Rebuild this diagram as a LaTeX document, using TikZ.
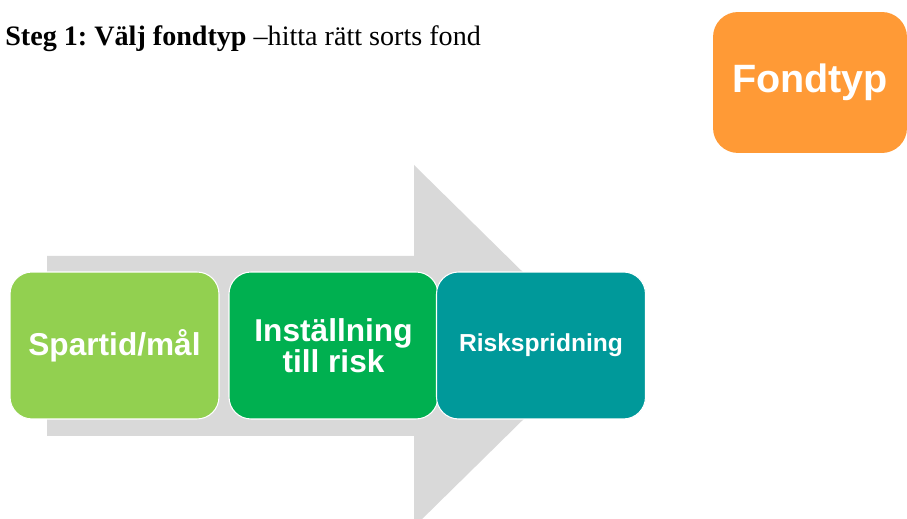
\documentclass[tikz,border=0pt]{standalone}
\usepackage{fontspec}
\setmainfont{Liberation Serif}
\setsansfont{Liberation Sans}
\usepackage{tikz}
\frenchspacing

\definecolor{arrowgray}{HTML}{D9D9D9}
\definecolor{lightgreen}{HTML}{92D050}
\definecolor{midgreen}{HTML}{00B050}
\definecolor{tealblue}{HTML}{00999A}
\definecolor{fondorange}{HTML}{FF9A36}

\begin{document}
\begin{tikzpicture}
[x=.02cm,y=-.02cm]
\tikzset{stepbox/.style={draw=white,line width=.6pt,rounded corners=.44cm,minimum width=4.18cm,minimum height=2.94cm,text=white,align=center,font=\sffamily\bfseries\fontsize{18}{17.5}\selectfont}}
\tikzset{typebox/.style={fill=fondorange,rounded corners=.5cm,minimum width=3.88cm,minimum height=2.82cm,text=white,font=\sffamily\bfseries\fontsize{22.5}{24}\selectfont}}
\clip (0,0) rectangle (907,519);
\fill [arrowgray] (47,256) -- (414,256) -- (414,165) -- (598,346) -- (414,527) -- (414,436) -- (47,436) -- cycle;
\node [anchor=base west,inner sep=0pt] (title) at (5,45.5) {\fontsize{16}{18}\selectfont\textbf{Steg 1: Välj fondtyp} –hitta rätt sorts fond};
\node [typebox] (fondtyp) at (810,82.5) {Fondtyp};
\node [stepbox,fill=lightgreen] (spartid) at (114.5,345.5) {Spartid/mål};
\node [stepbox,fill=midgreen] (installning) at (333.5,345.5) {Inställning\\till risk};
\node [stepbox,fill=tealblue,font=\sffamily\bfseries\fontsize{14}{16}\selectfont] (risk) at (541,345.5) {Riskspridning};
\end{tikzpicture}
\end{document}
